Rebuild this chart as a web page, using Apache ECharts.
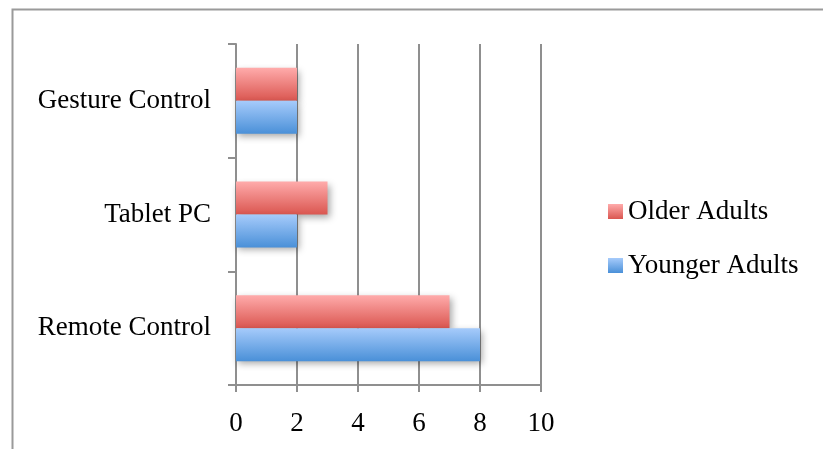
<!DOCTYPE html>
<html>
<head>
<meta charset="utf-8">
<script src="https://cdn.jsdelivr.net/npm/echarts@6/dist/echarts.min.js"></script>
<style>
  html, body { margin: 0; padding: 0; background: #fff; }
  #chart { width: 823px; height: 449px; }
</style>
</head>
<body>
<div id="chart"></div>
<script>
// Device types, listed bottom-to-top along the category axis
const categories = ['Remote Control', 'Tablet PC', 'Gesture Control'];
const youngerAdults = [8, 2, 2];
const olderAdults = [7, 3, 2];
const xTicks = { min: 0, max: 10, interval: 2 };

const FONT = 'Liberation Serif';
const FONT_SIZE = 27;
const GRID_GRAY = '#8f8f8f';

function vGrad(top, bottom) {
  return new echarts.graphic.LinearGradient(0, 0, 0, 1, [
    { offset: 0, color: top },
    { offset: 1, color: bottom }
  ]);
}

const chart = echarts.init(document.getElementById('chart'), null, { renderer: 'canvas' });

const barShadow = {
  shadowBlur: 7,
  shadowOffsetX: 2,
  shadowOffsetY: 3,
  shadowColor: 'rgba(0,0,0,0.35)'
};

chart.setOption({
  animation: false,
  backgroundColor: '#fff',
  textStyle: { fontFamily: FONT, color: '#000' },
  graphic: [{
    type: 'polyline',
    shape: { points: [[12.5, 449], [12.5, 9.5], [823, 9.5]] },
    style: { stroke: '#9a9a9a', lineWidth: 2, fill: null },
    silent: true
  }],
  grid: { left: 236, right: 282, top: 44, bottom: 64, containLabel: false },
  legend: {
    orient: 'vertical',
    left: 603,
    top: 193,
    itemWidth: 15,
    itemHeight: 15,
    itemGap: 27,
    icon: 'rect',
    data: ['Older Adults', 'Younger Adults'],
    textStyle: { fontFamily: FONT, fontSize: FONT_SIZE, color: '#000', padding: [0, 0, 0, 0] }
  },
  xAxis: {
    type: 'value',
    min: xTicks.min,
    max: xTicks.max,
    interval: xTicks.interval,
    axisLine: { show: true, lineStyle: { color: GRID_GRAY, width: 2 } },
    axisTick: { show: true, length: 7, lineStyle: { color: GRID_GRAY, width: 2 } },
    splitLine: { show: true, lineStyle: { color: GRID_GRAY, width: 2 } },
    axisLabel: { fontFamily: FONT, fontSize: FONT_SIZE, color: '#000', margin: 25 }
  },
  yAxis: {
    type: 'category',
    data: categories,
    axisLine: { show: true, lineStyle: { color: GRID_GRAY, width: 2 } },
    axisTick: { show: true, length: 8, lineStyle: { color: GRID_GRAY, width: 2 } },
    axisLabel: { fontFamily: FONT, fontSize: FONT_SIZE, color: '#000', margin: 25, padding: [6, 0, 0, 0] }
  },
  series: [
    {
      name: 'Older Adults',
      type: 'bar',
      data: olderAdults,
      barGap: '0%',
      barCategoryGap: '42%',
      itemStyle: Object.assign({ color: vGrad('#ffabab', '#da5650') }, barShadow)
    },
    {
      name: 'Younger Adults',
      type: 'bar',
      data: youngerAdults,
      barGap: '0%',
      barCategoryGap: '42%',
      itemStyle: Object.assign({ color: vGrad('#a6cbfb', '#4a90d8') }, barShadow)
    }
  ]
});
</script>
</body>
</html>
